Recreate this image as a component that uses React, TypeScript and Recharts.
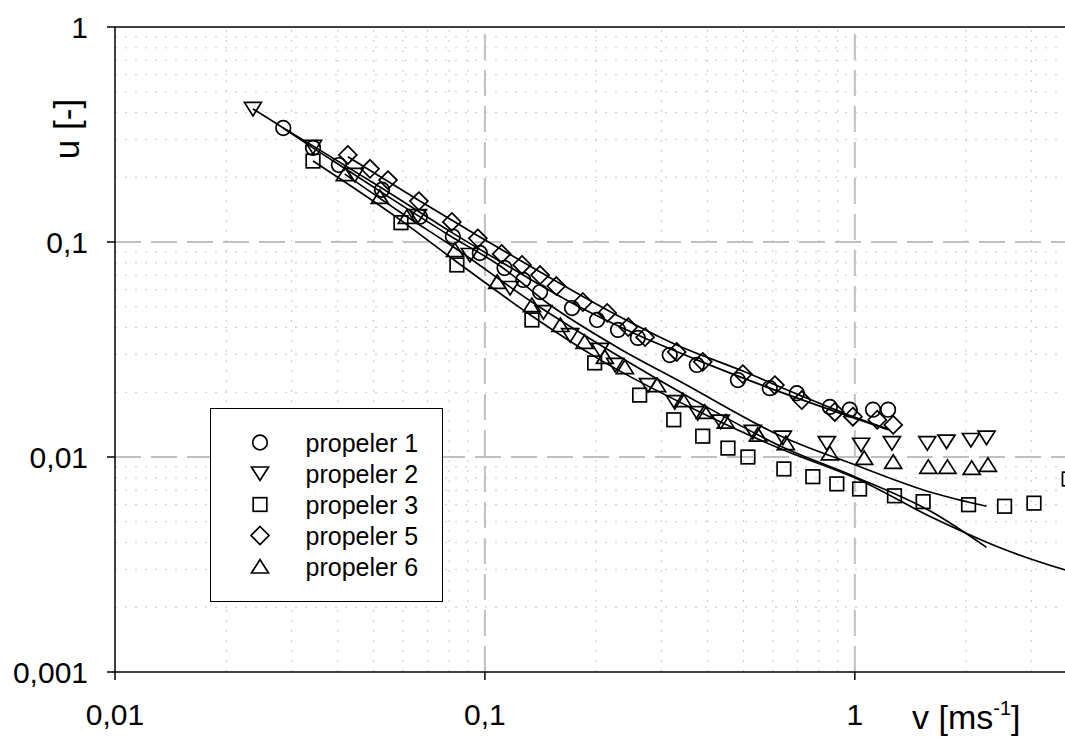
import React from 'react';
import { ComposedChart, Line, Scatter, XAxis, YAxis, ReferenceLine, Legend } from 'recharts';

const FONT = '"Liberation Sans", Arial, Helvetica, sans-serif';

// ---- axis ticks ----
const xTicks = [0.01, 0.1, 1];
const xTickLabels = ['0,01', '0,1', '1'];
const yTicks = [0.001, 0.01, 0.1, 1];
const yTickLabels = ['0,001', '0,01', '0,1', '1'];
const xMajorGrid = [0.1, 1];
const yMajorGrid = [0.01, 0.1];
const xMinorGrid = [0.02, 0.03, 0.04, 0.05, 0.06, 0.07, 0.08, 0.09, 0.2, 0.3, 0.4, 0.5, 0.6, 0.7, 0.8, 0.9, 2, 3];
const yMinorGrid = [0.002, 0.003, 0.004, 0.005, 0.006, 0.007, 0.008, 0.009, 0.02, 0.03, 0.04, 0.05, 0.06, 0.07, 0.08, 0.09, 0.2, 0.3, 0.4, 0.5, 0.6, 0.7, 0.8, 0.9];

// ---- measured points ----
const p1V = [0.0285, 0.0343, 0.0403, 0.0527, 0.0667, 0.0819, 0.0969, 0.113, 0.127, 0.141, 0.172, 0.201, 0.229, 0.259, 0.316, 0.374, 0.483, 0.589, 0.697, 0.856, 0.969, 1.12, 1.23];
const p1U = [0.339, 0.274, 0.228, 0.175, 0.131, 0.106, 0.0889, 0.0757, 0.0666, 0.0585, 0.0493, 0.0434, 0.039, 0.0358, 0.0298, 0.0268, 0.0228, 0.0209, 0.0198, 0.0171, 0.0166, 0.0166, 0.0166];

const p2V = [0.0236, 0.0343, 0.0445, 0.0659, 0.0911, 0.117, 0.144, 0.17, 0.205, 0.225, 0.276, 0.326, 0.376, 0.434, 0.53, 0.639, 0.84, 1.04, 1.26, 1.57, 1.77, 2.06, 2.27];
const p2U = [0.416, 0.277, 0.205, 0.132, 0.087, 0.0611, 0.0472, 0.0369, 0.0315, 0.0268, 0.0216, 0.018, 0.016, 0.0146, 0.0131, 0.0123, 0.0116, 0.0114, 0.0116, 0.0116, 0.0118, 0.012, 0.0123];

const p3V = [0.0343, 0.0593, 0.084, 0.134, 0.198, 0.262, 0.324, 0.388, 0.454, 0.514, 0.643, 0.77, 0.894, 1.03, 1.28, 1.53, 2.03, 2.54, 3.05, 3.8];
const p3U = [0.238, 0.123, 0.0782, 0.0434, 0.0274, 0.0194, 0.0149, 0.0125, 0.011, 0.01, 0.0088, 0.0081, 0.0075, 0.0071, 0.0066, 0.0062, 0.006, 0.0059, 0.0061, 0.0079];

const p5V = [0.0426, 0.0489, 0.0547, 0.0663, 0.0814, 0.0957, 0.111, 0.126, 0.141, 0.156, 0.184, 0.214, 0.244, 0.271, 0.33, 0.388, 0.498, 0.608, 0.719, 0.883, 0.988, 1.15, 1.27];
const p5U = [0.254, 0.219, 0.194, 0.155, 0.124, 0.104, 0.088, 0.0782, 0.0702, 0.0624, 0.0526, 0.0468, 0.0402, 0.0361, 0.0308, 0.0277, 0.0243, 0.0216, 0.0184, 0.0162, 0.0154, 0.0149, 0.0141];

const p6V = [0.0418, 0.052, 0.0615, 0.083, 0.108, 0.134, 0.16, 0.186, 0.211, 0.239, 0.292, 0.343, 0.393, 0.448, 0.547, 0.651, 0.856, 1.06, 1.27, 1.58, 1.78, 2.07, 2.29];
const p6U = [0.207, 0.162, 0.131, 0.0918, 0.0652, 0.0509, 0.0411, 0.0343, 0.0292, 0.0262, 0.0216, 0.0184, 0.0162, 0.0146, 0.0127, 0.0116, 0.0104, 0.0099, 0.0095, 0.009, 0.009, 0.0089, 0.0092];

// ---- fitted curves ----
const f1V = [0.0285, 0.0343, 0.0527, 0.0819, 0.113, 0.172, 0.259, 0.374, 0.589, 0.856, 1.23];
const f1U = [0.339, 0.28, 0.178, 0.11, 0.079, 0.052, 0.0369, 0.0283, 0.0209, 0.0166, 0.0134];

const f5V = [0.0426, 0.0667, 0.0957, 0.141, 0.214, 0.33, 0.498, 0.719, 1.01, 1.24];
const f5U = [0.249, 0.155, 0.107, 0.0725, 0.0483, 0.0332, 0.0251, 0.0192, 0.0152, 0.0134];

const f2V = [0.0236, 0.0285, 0.0343, 0.0432, 0.0589, 0.0804, 0.11, 0.15, 0.227, 0.343, 0.639, 1.0, 1.63, 2.27];
const f2U = [0.416, 0.339, 0.274, 0.212, 0.15, 0.107, 0.0773, 0.0509, 0.0325, 0.0221, 0.0124, 0.0092, 0.0068, 0.0059];

const f6V = [0.0418, 0.0589, 0.083, 0.134, 0.205, 0.381, 0.639, 1.0, 1.63, 2.27];
const f6U = [0.207, 0.138, 0.0938, 0.0526, 0.0332, 0.0178, 0.0111, 0.0081, 0.0055, 0.0038];

const f3V = [0.0343, 0.0589, 0.084, 0.134, 0.205, 0.381, 0.639, 1.0, 1.63, 2.5, 3.9];
const f3U = [0.238, 0.127, 0.0807, 0.0453, 0.0283, 0.0162, 0.0108, 0.008, 0.0052, 0.00375, 0.0029];

const legendNames = ['propeler 1', 'propeler 2', 'propeler 3', 'propeler 5', 'propeler 6'];

const zip = (vs: number[], us: number[]) => vs.map((v, i) => ({ v, u: us[i] }));

const SW = 1.7;

const CircleMark = ({ cx, cy }: any) => <circle cx={cx} cy={cy} r={7.3} fill="none" stroke="#000" strokeWidth={SW} />;
const TriDownMark = ({ cx, cy }: any) => (
  <path d={`M${cx - 8.5},${cy - 6.5} L${cx + 8.5},${cy - 6.5} L${cx},${cy + 7} Z`} fill="none" stroke="#000" strokeWidth={SW} />
);
const TriUpMark = ({ cx, cy }: any) => (
  <path d={`M${cx - 8.5},${cy + 6.5} L${cx + 8.5},${cy + 6.5} L${cx},${cy - 7} Z`} fill="none" stroke="#000" strokeWidth={SW} />
);
const SquareMark = ({ cx, cy }: any) => (
  <rect x={cx - 6.8} y={cy - 6.8} width={13.6} height={13.6} fill="none" stroke="#000" strokeWidth={SW} />
);
const DiamondMark = ({ cx, cy }: any) => (
  <path d={`M${cx},${cy - 9} L${cx + 9},${cy} L${cx},${cy + 9} L${cx - 9},${cy} Z`} fill="none" stroke="#000" strokeWidth={SW} />
);

const legendShapes = [CircleMark, TriDownMark, SquareMark, DiamondMark, TriUpMark];

const renderLegend = () => (
  <div style={{ width: 233, height: 194, border: '1.5px solid #000', background: '#fff', boxSizing: 'border-box' }}>
    <svg width={230} height={191} style={{ display: 'block' }}>
      {legendNames.map((n, i) => {
        const cy = 33.5 + 31 * i;
        const Shape = legendShapes[i];
        return (
          <g key={n}>
            <Shape cx={49} cy={cy} />
            <text x={94.5} y={cy + 9} fontSize={25} fontFamily={FONT} fill="#000">{n}</text>
          </g>
        );
      })}
    </svg>
  </div>
);

const XTitle = (props: any) => {
  const vb = props.viewBox || { x: 115, y: 672 };
  const x = vb.x + 797;
  const y = vb.y + 57;
  return (
    <text x={x} y={y} fontSize={34} fontFamily={FONT} fill="#000">
      v [ms
      <tspan dy={-14} fontSize={20}>-1</tspan>
      <tspan dy={14}>]</tspan>
    </text>
  );
};

const YTitle = (props: any) => {
  const vb = props.viewBox || { x: 0, y: 27 };
  const x = vb.x + 79;
  const y = vb.y + 102;
  return (
    <text x={x} y={y} fontSize={35} fontFamily={FONT} fill="#000" textAnchor="middle" transform={`rotate(-90, ${x}, ${y})`}>
      u [-]
    </text>
  );
};

export default function App() {
  const minorStyle = { stroke: '#c8c8c8', strokeWidth: 1, strokeDasharray: '2 8' };
  const majorStyle = { stroke: '#c0c0c0', strokeWidth: 2, strokeDasharray: '26 10' };
  return (
    <div style={{ position: 'absolute', left: 0, top: 0, fontFamily: FONT }}>
      <ComposedChart width={1065} height={744} margin={{ top: 27, right: 0, bottom: 0, left: 0 }}>
        <XAxis
          dataKey="v"
          type="number"
          scale="log"
          domain={[0.01, 3.7]}
          allowDataOverflow
          ticks={xTicks}
          interval={0}
          tickFormatter={(val: number) => xTickLabels[xTicks.indexOf(val)]}
          height={72}
          tickSize={8}
          tickMargin={24}
          axisLine={{ stroke: '#000', strokeWidth: 1.5 }}
          tickLine={{ stroke: '#000', strokeWidth: 1.5 }}
          tick={{ fontSize: 30, fill: '#000', fontFamily: FONT }}
          label={<XTitle />}
        />
        <YAxis
          type="number"
          scale="log"
          domain={[0.001, 1]}
          allowDataOverflow
          ticks={yTicks}
          interval={0}
          tickFormatter={(val: number) => yTickLabels[yTicks.indexOf(val)]}
          width={115}
          tickSize={8}
          tickMargin={19}
          axisLine={{ stroke: '#000', strokeWidth: 1.5 }}
          tickLine={{ stroke: '#000', strokeWidth: 1.5 }}
          tick={{ fontSize: 30, fill: '#000', fontFamily: FONT }}
          label={<YTitle />}
        />
        {xMinorGrid.map((g) => (
          <ReferenceLine key={'xm' + g} x={g} {...minorStyle} />
        ))}
        {yMinorGrid.map((g) => (
          <ReferenceLine key={'ym' + g} y={g} {...minorStyle} />
        ))}
        {xMajorGrid.map((g) => (
          <ReferenceLine key={'xM' + g} x={g} {...majorStyle} />
        ))}
        {yMajorGrid.map((g) => (
          <ReferenceLine key={'yM' + g} y={g} {...majorStyle} />
        ))}
        <ReferenceLine y={1} stroke="#000" strokeWidth={1.5} />

        <Line data={zip(f1V, f1U)} dataKey="u" type="monotone" stroke="#000" strokeWidth={1.7} dot={false} isAnimationActive={false} />
        <Line data={zip(f5V, f5U)} dataKey="u" type="monotone" stroke="#000" strokeWidth={1.7} dot={false} isAnimationActive={false} />
        <Line data={zip(f2V, f2U)} dataKey="u" type="monotone" stroke="#000" strokeWidth={1.7} dot={false} isAnimationActive={false} />
        <Line data={zip(f6V, f6U)} dataKey="u" type="monotone" stroke="#000" strokeWidth={1.7} dot={false} isAnimationActive={false} />
        <Line data={zip(f3V, f3U)} dataKey="u" type="monotone" stroke="#000" strokeWidth={1.7} dot={false} isAnimationActive={false} />

        <Scatter name="propeler 1" data={zip(p1V, p1U)} dataKey="u" shape={(p: any) => <CircleMark cx={p.cx} cy={p.cy} />} isAnimationActive={false} />
        <Scatter name="propeler 2" data={zip(p2V, p2U)} dataKey="u" shape={(p: any) => <TriDownMark cx={p.cx} cy={p.cy} />} isAnimationActive={false} />
        <Scatter name="propeler 3" data={zip(p3V, p3U)} dataKey="u" shape={(p: any) => <SquareMark cx={p.cx} cy={p.cy} />} isAnimationActive={false} />
        <Scatter name="propeler 5" data={zip(p5V, p5U)} dataKey="u" shape={(p: any) => <DiamondMark cx={p.cx} cy={p.cy} />} isAnimationActive={false} />
        <Scatter name="propeler 6" data={zip(p6V, p6U)} dataKey="u" shape={(p: any) => <TriUpMark cx={p.cx} cy={p.cy} />} isAnimationActive={false} />

        <Legend
          layout="vertical"
          align="center"
          verticalAlign="middle"
          content={renderLegend}
          wrapperStyle={{ left: 210, top: 408, width: 233, height: 194 }}
        />
      </ComposedChart>
    </div>
  );
}
